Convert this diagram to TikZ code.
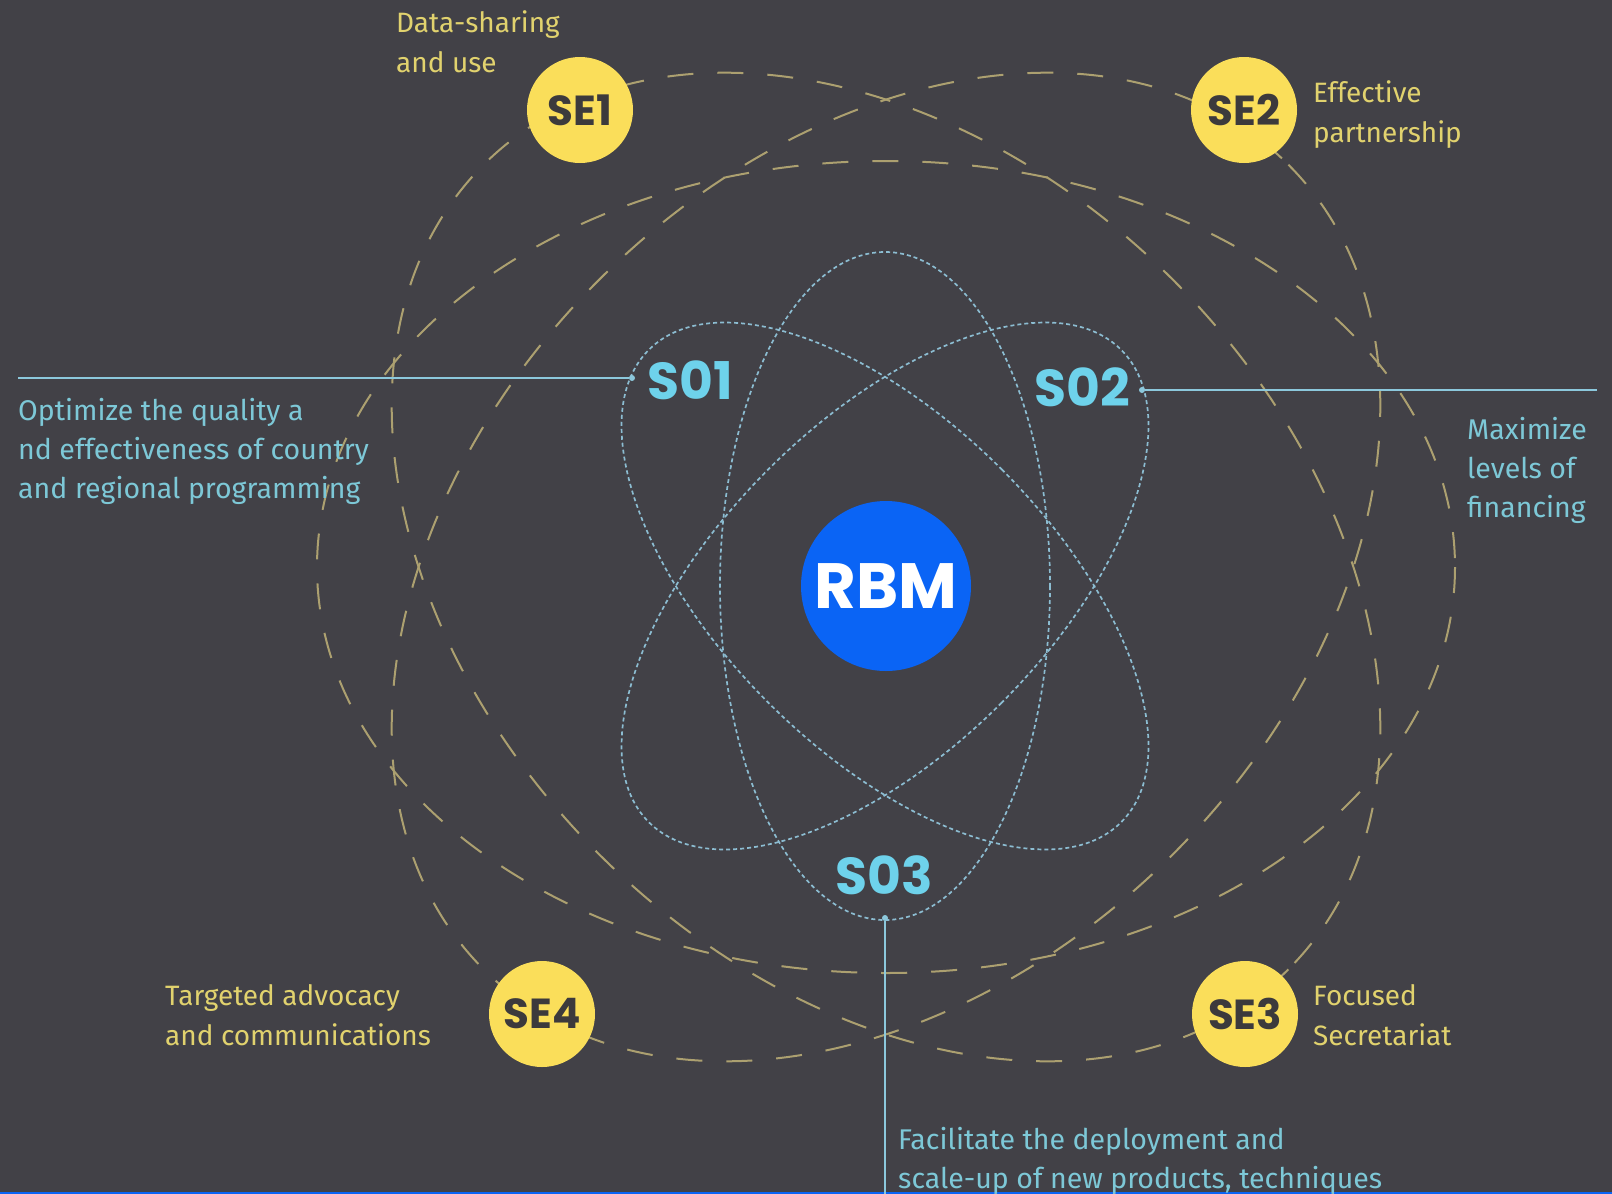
\documentclass[tikz,border=0pt]{standalone}
\usepackage{fontspec}
\setmainfont{Fira Sans}
\newfontfamily\headfont{Poppins}
\definecolor{bg}{HTML}{424147}
\definecolor{sun}{HTML}{FADE5A}
\definecolor{ink}{HTML}{3C3A3C}
\definecolor{gold}{HTML}{E1D26E}
\definecolor{sand}{HTML}{ACA070}
\definecolor{sky}{HTML}{8CBDD2}
\definecolor{skytext}{HTML}{6ED2EB}
\definecolor{skyline}{HTML}{8CC8DC}
\definecolor{skydesc}{HTML}{7DC8D7}
\definecolor{rbmblue}{HTML}{0A64F5}
\begin{document}
\begin{tikzpicture}[x=1pt,y=-1pt,
    ring/.style={draw=sand, line width=2pt, dash pattern=on 26pt off 24pt},
    orbit/.style={draw=sky, line width=1.7pt, dash pattern=on 4pt off 3pt},
    se/.style={circle, fill=sun, minimum size=106pt, inner sep=0pt, text=ink, font=\headfont\bfseries\fontsize{42}{42}\selectfont},
    so/.style={inner sep=0pt, text=skytext, font=\headfont\bfseries\fontsize{52}{52}\selectfont},
    ytext/.style={anchor=base west, align=left, inner sep=0pt, text=gold, font=\fontsize{28}{40}\selectfont},
    btext/.style={ytext, text=skydesc, font=\fontsize{28.5}{39}\selectfont},
    dot/.style={circle, fill=skyline, inner sep=0pt, minimum size=6pt}]
        \useasboundingbox (0,0) rectangle (1612,1194);
        \fill[bg] (0,0) rectangle (1612,1194);
        \fill[rbmblue] (0,1192) rectangle (1612,1194);

        \coordinate (yc) at (886,567);
        \coordinate (bc) at (885,586);

        % yellow rings
        \path[ring] (yc) ellipse [x radius=569, y radius=406];
        \path[ring, rotate around={45:(yc)}] (yc) ellipse [x radius=569, y radius=406];
        \path[ring, rotate around={-45:(yc)}] (yc) ellipse [x radius=569, y radius=406];

        % blue orbits
        \path[orbit] (bc) ellipse [x radius=165, y radius=334];
        \path[orbit, rotate around={45:(bc)}] (bc) ellipse [x radius=165, y radius=334];
        \path[orbit, rotate around={-45:(bc)}] (bc) ellipse [x radius=165, y radius=334];

        \node[dot] (d1) at (632,378) {};
        \node[dot] (d2) at (1142,390) {};
        \node[dot] (d3) at (885,918) {};
        \coordinate (e1) at (18,378);
        \coordinate (e2) at (1597,390);
        \coordinate (e3) at (885,1194);
        \path[draw=skyline, line width=2pt] (d1) -- (e1);
        \path[draw=skyline, line width=2pt] (d2) -- (e2);
        \path[draw=skyline, line width=2pt] (d3) -- (e3);

        \node[circle, fill=rbmblue, minimum size=170pt, inner sep=0pt, text=white, font=\headfont\bfseries\fontsize{64}{64}\selectfont] (rbm) at (886,586) {RBM};

        \node[so] (so1) at (690,380) {S01};
        \node[so] (so2) at (1082,387) {S02};
        \node[so] (so3) at (884,875) {S03};

        \node[se] (se1) at (580,110) {SE1};
        \node[se] (se2) at (1244,110) {SE2};
        \node[se] (se3) at (1245,1014) {SE3};
        \node[se] (se4) at (542,1014) {SE4};

        % base anchor sits on the last line
        \node[ytext] (t1) at (396,72) {Data-sharing\\and use};
        \node[ytext] (t2) at (1313,142) {Effective\\partnership};
        \node[ytext] (t3) at (1313,1045) {Focused\\Secretariat};
        \node[ytext] (t4) at (165,1045) {Targeted advocacy\\and communications};

        \node[btext] (g1) at (18,498) {Optimize the quality a\\nd effectiveness of country\\and regional programming};
        \node[btext] (g2) at (1467,517) {Maximize\\levels of\\financing};
        \node[btext] (g3) at (898,1188) {Facilitate the deployment and\\scale-up of new products, techniques};
\end{tikzpicture}
\end{document}
